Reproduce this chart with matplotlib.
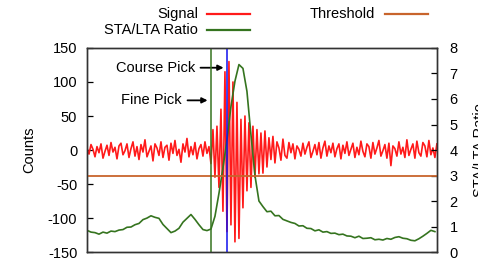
import matplotlib
matplotlib.use('Agg')
import matplotlib.pyplot as plt
from matplotlib.lines import Line2D
import numpy as np

plt.rcParams['font.family'] = ['Liberation Sans', 'DejaVu Sans']
plt.rcParams['axes.unicode_minus'] = False

# Seismic trace (counts), one value every sample
signal_pre = [3, -6, 8, 1, -10, 5, -4, 9, -12, -2, 7, -8, 11, -3, 4, -13, 6, 10, -7, -1,
              9, -11, 2, 12, -9, 5, -14, 8, -3, 15, -10, -2, 6, -16, 9, 3, -8, 12, -11, 4,
              7, -15, 10, -5, 14, -8, 1, -18, 9, -3, 17, -10, 5, -7, 11, -13, 2, 8, -9, 12, -5]
signal_event = [5, -20, 30, -40, 35, -55, 60, -90, 115, -120, 130, -110, 100, -135, 70, -130,
                45, -85, 50, -60, 40, -55, 35, -40, 30, -35, 25, -34, 28, -25]
signal_post = [18, -14, 20, -19, 12, 3, -15, 16, -8, -12, 11, -4, 9, -13, 6, 1, -9, 10, -6, 4,
               12, -11, -2, 8, -7, 11, -12, 3, 13, -9, 6, -4, 10, -10, 2, 9, -13, 7, -5, 12,
               -8, 1, 10, -11, 4, -7, 13, -2, -10, 9, 5, -12, 11, -6, 3, 14, -9, -1, 8, -12,
               10, -23, 6, 2, -9, 12, -6, 4, -11, 15, -8, 1, 9, -12, 13, -4, -9, 11, 6, -10,
               14, -7, 3, -11, 9]
signal = signal_pre + signal_event + signal_post

# STA/LTA ratio, one value every 2 samples
ratio = [0.85, 0.78, 0.76, 0.7, 0.78, 0.74, 0.82, 0.8, 0.86, 0.88, 0.97, 0.98, 1.07, 1.12, 1.27,
         1.33, 1.42, 1.36, 1.32, 1.08, 0.92, 0.76, 0.82, 0.93, 1.17, 1.32, 1.47, 1.28, 1.07, 0.88,
         0.84, 0.9, 1.4, 2.3, 3.3, 4.4, 5.7, 6.7, 7.35, 7.2, 6.3, 4.6, 3.0, 2.0, 1.78,
         1.58, 1.6, 1.42, 1.43, 1.28, 1.22, 1.16, 1.12, 1.02, 1.03, 0.93, 0.92, 0.83, 0.87, 0.78,
         0.8, 0.73, 0.74, 0.68, 0.7, 0.63, 0.62, 0.56, 0.62, 0.53, 0.54, 0.56, 0.48, 0.5, 0.47,
         0.53, 0.5, 0.57, 0.6, 0.54, 0.52, 0.46, 0.44, 0.52, 0.62, 0.73, 0.85, 0.8]
threshold = 3.0
fine_pick = 62
course_pick = 70

RED = '#ff1a1a'
GREEN = '#35741f'
ORANGE = '#c8642c'
BLUE = '#1010ee'
FS = 10.5

fig = plt.figure(figsize=(4.78, 2.63), dpi=100)
ax = fig.add_axes([0.182, 0.0418, 0.732, 0.7757])
ax2 = ax.twinx()

x_sig = np.arange(len(signal))
x_rat = np.arange(len(ratio)) * 2

ax.plot(x_sig, signal, color=RED, lw=1.2, zorder=2)
ax2.plot(x_rat, ratio, color=GREEN, lw=1.2)
ax2.axhline(threshold, color=ORANGE, lw=1.3)
ax2.axvline(fine_pick, color=GREEN, lw=1.1)
ax2.axvline(course_pick, color=BLUE, lw=1.1)

ax.set_xlim(0, len(signal) - 1)
ax.set_ylim(-150, 150)
ax2.set_ylim(0, 8)
ax.set_yticks(range(-150, 151, 50))
ax2.set_yticks(range(0, 9))
ax.set_xticks([])

ax.tick_params(axis='y', direction='in', length=4, width=0.9, pad=7, labelsize=FS)
ax2.tick_params(axis='y', direction='in', length=4, width=0.9, pad=9, labelsize=FS)
for a in (ax, ax2):
    for s in a.spines.values():
        s.set_color('#333333')
        s.set_linewidth(1.0)

ax.set_ylabel('Counts', fontsize=FS)
ax.yaxis.set_label_coords(-0.146, 0.5)
ax2.set_ylabel('STA/LTA Ratio', fontsize=FS, rotation=90)
ax2.yaxis.set_label_coords(1.103, 0.5)

arrow = dict(arrowstyle='-|>', color='black', lw=1.3, mutation_scale=8,
             shrinkA=2, shrinkB=1)
ax.annotate('Course Pick', xy=(course_pick - 1, 121), xytext=(54, 121),
            ha='right', va='center', fontsize=FS, arrowprops=arrow)
ax.annotate('Fine Pick', xy=(fine_pick - 1, 73), xytext=(47.5, 73),
            ha='right', va='center', fontsize=FS, arrowprops=arrow)

# legend drawn gnuplot style: text right-aligned, sample line to the right
W, H = 478.0, 263.0
legend_items = [('Signal', RED, 198, 207, 250, 14),
                ('STA/LTA Ratio', GREEN, 198, 207, 250, 30),
                ('Threshold', ORANGE, 375, 385, 428, 14)]
for label, col, tx, x0, x1, y in legend_items:
    fig.text(tx / W, 1 - y / H, label, ha='right', va='center', fontsize=FS)
    fig.add_artist(Line2D([x0 / W, x1 / W], [1 - y / H, 1 - y / H],
                          color=col, lw=1.6, transform=fig.transFigure))

fig.savefig('out.png', dpi=100)
